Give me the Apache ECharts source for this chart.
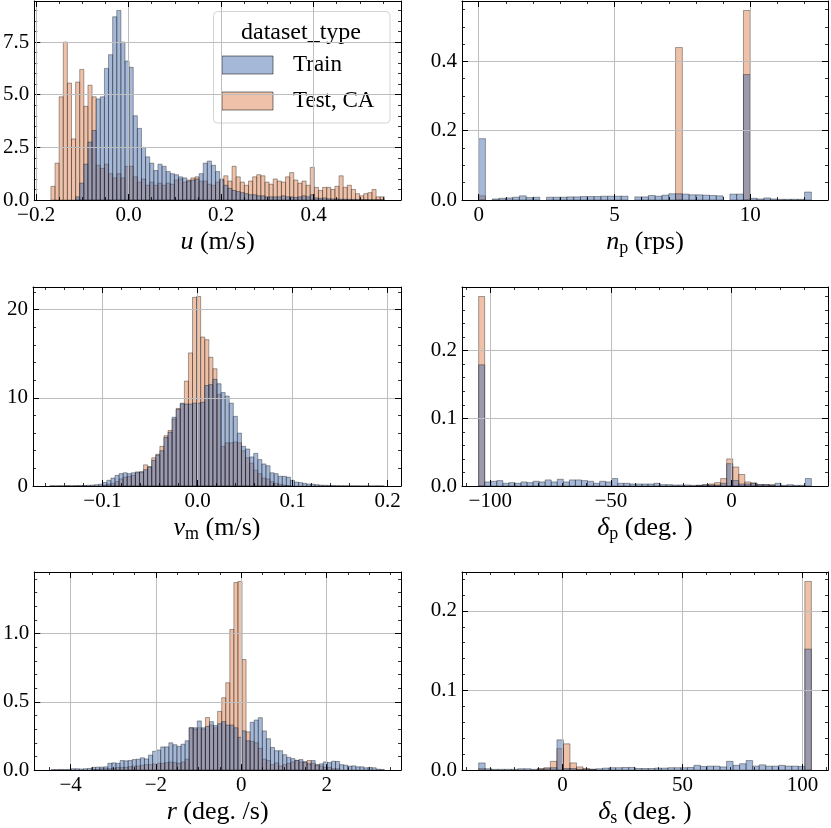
<!DOCTYPE html>
<html>
<head>
<meta charset="utf-8">
<title>dataset_type histograms</title>
<script src="https://cdn.jsdelivr.net/npm/echarts@6/dist/echarts.min.js"></script>
<style>
  html, body { margin: 0; padding: 0; background: #fff; }
  #chart { width: 831px; height: 828px; }
</style>
</head>
<body>
<div id="chart"></div>
<script>
// histogram bins: first edge, bin width, then density per bin
const uStart = -0.168
const uWidth = 0.0089
const uTrain = [0, 0, 0, 0, 0, 0, 0.15, 0.8, 1.7, 2.75,
  3.3, 4.8, 4.9, 6.25, 6.9, 8.7, 9.0, 7.5, 6.6, 6.3,
  4.0, 3.4, 2.5, 2.05, 1.75, 1.4, 1.7, 1.6, 1.35, 1.25,
  1.2, 1.1, 1.05, 0.9, 0.95, 1.0, 1.25, 1.75, 1.85, 1.65,
  1.35, 0.95, 0.7, 0.55, 0.45, 0.4, 0.35, 0.3, 0.25, 0.25,
  0.2, 0.2, 0.15, 0.15, 0.15, 0.15, 0.2, 0.15, 0.15, 0.12,
  0.15, 0.2, 0.15, 0.25, 0.1, 0.08, 0.1, 0.06, 0.05, 0.05,
  0.04, 0.04, 0.03, 0.03, 0.02, 0.02, 0.02, 0.01, 0.01, 0.01,
  0.01]
const uTest = [0.65, 1.75, 4.9, 7.5, 5.55, 2.9, 5.6, 6.2, 4.45, 5.45,
  4.9, 1.65, 1.5, 1.7, 1.25, 1.05, 1.25, 1.05, 1.6, 1.6,
  1.1, 0.85, 1.0, 0.7, 0.85, 0.7, 0.8, 0.7, 0.8, 0.75,
  0.95, 1.0, 0.85, 0.95, 1.05, 1.1, 0.9, 0.9, 0.75, 0.7,
  0.85, 1.0, 1.15, 0.9, 1.6, 1.1, 0.85, 0.7, 0.9, 1.1,
  1.2, 1.15, 0.85, 0.75, 1.0, 0.9, 0.85, 1.1, 1.3, 0.95,
  0.8, 0.9, 0.7, 1.55, 0.6, 0.45, 0.6, 0.6, 0.5, 0.65,
  1.15, 0.6, 0.7, 0.5, 0.3, 0.2, 0.3, 0.35, 0.5, 0.15,
  0.15]

const npStart = 0
const npWidth = 0.25
const npTrain = [0.177, 0, 0.003, 0.005, 0.006, 0.008, 0.012, 0.007, 0.008, 0,
  0.008, 0.008, 0.008, 0.009, 0.009, 0.01, 0.01, 0.01, 0.011, 0.011,
  0.011, 0.011, 0, 0.009, 0.009, 0.013, 0.011, 0.014, 0.018, 0.018,
  0.017, 0.015, 0.015, 0.014, 0.013, 0.012, 0, 0.017, 0.017, 0.362,
  0.005, 0.003, 0.006, 0.003, 0.002, 0.002, 0.002, 0.002, 0.023]
const npTest = [0.012, 0, 0, 0, 0, 0, 0, 0, 0, 0,
  0, 0, 0, 0, 0, 0, 0, 0, 0, 0,
  0, 0, 0, 0, 0, 0, 0, 0, 0, 0.44,
  0, 0, 0, 0, 0, 0, 0, 0, 0, 0.547,
  0, 0, 0, 0, 0, 0, 0, 0, 0]

const vmStart = -0.1554
const vmWidth = 0.00429
const vmTrain = [0.03, 0.02, 0.03, 0.02, 0.05, 0.03, 0.05, 0.06, 0.06, 0.08,
  0.1, 0.15, 0.2, 0.4, 0.65, 0.9, 1.2, 1.4, 1.5, 1.4,
  1.5, 1.6, 1.6, 1.85, 2.15, 2.9, 3.5, 4.0, 5.5, 6.1,
  7.8, 8.7, 9.4, 9.3, 9.3, 9.4, 9.4, 9.5, 11.4, 11.5,
  12.1, 11.6, 10.6, 10.2, 9.4, 7.9, 6.0, 4.5, 4.2, 3.3,
  3.7, 3.0, 2.5, 2.3, 1.5, 1.4, 1.1, 1.1, 1.0, 0.65,
  0.45, 0.38, 0.3, 0.22, 0.2, 0.15, 0.1, 0.08, 0.06, 0.05,
  0.04, 0.03, 0.03, 0.02, 0.02, 0.02, 0.01, 0.01, 0.01, 0.01,
  0.02, 0.01]
const vmTest = [0, 0, 0, 0, 0, 0, 0, 0, 0, 0,
  0, 0, 0, 0.1, 0.2, 0.3, 0.5, 0.8, 1.0, 1.1,
  1.2, 1.5, 1.6, 2.4, 2.2, 3.2, 3.6, 4.5, 5.7, 6.3,
  7.6, 8.8, 9.3, 11.9, 15.1, 21.4, 21.5, 16.9, 16.6, 14.6,
  13.3, 10.4, 4.5, 4.9, 4.9, 5.0, 4.9, 4.0, 3.2, 2.6,
  1.8, 1.4, 0.9, 0.8, 0.5, 0.3, 0.2, 0.1, 0.05, 0,
  0, 0, 0, 0, 0, 0, 0, 0, 0, 0,
  0, 0, 0, 0, 0, 0, 0, 0, 0, 0,
  0, 0]

const dpStart = -104.8
const dpWidth = 2.507
const dpTrain = [0.179, 0.006, 0.007, 0.008, 0.004, 0.005, 0.004, 0.006, 0.005, 0.007,
  0.006, 0.009, 0.006, 0.01, 0.006, 0.009, 0.009, 0.008, 0.007, 0.004,
  0.007, 0.006, 0.011, 0.004, 0.004, 0.003, 0.003, 0.003, 0.003, 0.004,
  0.002, 0.002, 0.0015, 0.0015, 0.0015, 0.001, 0.001, 0.0015, 0.0015, 0.0015,
  0.004, 0.033, 0.008, 0.003, 0.003, 0.004, 0.002, 0.002, 0.001, 0.004,
  0.001, 0.002, 0.001, 0.001, 0.011]
const dpTest = [0.28, 0, 0, 0, 0, 0, 0, 0, 0, 0,
  0, 0, 0, 0, 0, 0, 0, 0, 0, 0,
  0, 0, 0, 0, 0, 0, 0, 0, 0, 0,
  0, 0, 0, 0, 0, 0, 0.001, 0.002, 0.003, 0.005,
  0.011, 0.04, 0.028, 0.017, 0.006, 0.0045, 0.002, 0.002, 0.002, 0,
  0, 0, 0, 0, 0]

const rStart = -4.46
const rWidth = 0.09524
const rTrain = [0.004, 0.004, 0.005, 0.004, 0.005, 0.01, 0.01, 0.008, 0.01, 0.012,
  0.02, 0.022, 0.022, 0.024, 0.05, 0.053, 0.05, 0.07, 0.068, 0.07,
  0.077, 0.08, 0.09, 0.082, 0.11, 0.138, 0.147, 0.17, 0.17, 0.2,
  0.186, 0.174, 0.19, 0.215, 0.31, 0.31, 0.36, 0.31, 0.32, 0.355,
  0.326, 0.34, 0.355, 0.33, 0.33, 0.31, 0.24, 0.287, 0.215, 0.35,
  0.367, 0.384, 0.287, 0.23, 0.166, 0.142, 0.142, 0.113, 0.094, 0.084,
  0.072, 0.077, 0.06, 0.046, 0.07, 0.036, 0.046, 0.06, 0.055, 0.065,
  0.063, 0.04, 0.036, 0.029, 0.031, 0.024, 0.024, 0.017, 0.02, 0.017,
  0.007, 0.005]
const rTest = [0, 0, 0, 0, 0, 0, 0, 0, 0, 0,
  0.005, 0.005, 0.01, 0.01, 0.01, 0.015, 0.02, 0.02, 0.02, 0.025,
  0.03, 0.03, 0.035, 0.04, 0.04, 0.045, 0.05, 0.05, 0.055, 0.06,
  0.055, 0.05, 0.06, 0.08, 0.31, 0.3, 0.31, 0.3, 0.385, 0.33,
  0.31, 0.43, 0.53, 0.64, 1.03, 1.374, 1.382, 0.81, 0.28, 0.21,
  0.2, 0.16, 0.08, 0.07, 0.04, 0.053, 0.03, 0.04, 0.05, 0.06,
  0.07, 0.06, 0.06, 0.07, 0.05, 0.04, 0.03, 0.02, 0.02, 0.01,
  0.01, 0, 0, 0, 0, 0, 0, 0, 0, 0,
  0, 0]

const dsStart = -34.9
const dsWidth = 2.718
const dsTrain = [0.009, 0.0017, 0.001, 0.001, 0.001, 0.001, 0.0017, 0.0017, 0.001, 0.001,
  0.0017, 0.003, 0.038, 0.002, 0.002, 0.001, 0.001, 0.001, 0.0017, 0.0025,
  0.003, 0.003, 0.0033, 0.0033, 0.002, 0.002, 0.002, 0.0025, 0.0025, 0.003,
  0.003, 0.003, 0.0033, 0.006, 0.0046, 0.005, 0.005, 0.004, 0.011, 0.006,
  0.008, 0.012, 0.005, 0.0066, 0.005, 0.005, 0.006, 0.005, 0.005, 0.0046,
  0.152]
const dsTest = [0.002, 0, 0, 0, 0, 0, 0, 0, 0, 0.002,
  0.003, 0.011, 0.027, 0.033, 0.009, 0.004, 0.002, 0.001, 0, 0,
  0, 0, 0, 0, 0, 0, 0, 0, 0, 0,
  0, 0, 0, 0, 0, 0, 0, 0, 0, 0,
  0, 0, 0, 0, 0, 0, 0, 0, 0, 0,
  0.237]

const seriesNames = ['Train', 'Test, CA']

const FONT = 'Liberation Serif'
const TRAIN_FILL = 'rgba(76,114,176,0.5)'
const TEST_FILL = 'rgba(221,132,82,0.5)'
const EDGE = 'rgba(0,0,0,0.5)'

const panels = [
  { start: uStart, width: uWidth, train: uTrain, test: uTest, xStep: 0.2, xDiv: 4, xDec: 1, yStep: 2.5, yDiv: 5, yDec: 1, name: '{i|u} (m/s)' },
  { start: npStart, width: npWidth, train: npTrain, test: npTest, xStep: 5, xDiv: 5, xDec: 0, yStep: 0.2, yDiv: 4, yDec: 1, name: '{i|n}{s|p} (rps)' },
  { start: vmStart, width: vmWidth, train: vmTrain, test: vmTest, xStep: 0.1, xDiv: 5, xDec: 1, yStep: 10, yDiv: 5, yDec: 0, name: '{i|v}{s|m} (m/s)' },
  { start: dpStart, width: dpWidth, train: dpTrain, test: dpTest, xStep: 50, xDiv: 5, xDec: 0, yStep: 0.1, yDiv: 5, yDec: 1, name: '{i|δ}{s|p} (deg. )' },
  { start: rStart, width: rWidth, train: rTrain, test: rTest, xStep: 2, xDiv: 4, xDec: 0, yStep: 0.5, yDiv: 5, yDec: 1, name: '{i|r} (deg. /s)' },
  { start: dsStart, width: dsWidth, train: dsTrain, test: dsTest, xStep: 50, xDiv: 5, xDec: 0, yStep: 0.1, yDiv: 5, yDec: 1, name: '{i|δ}{s|s} (deg. )' }
]

// plot boxes [left, top, width, height]
const cells = [
  [33, 1, 368, 199], [462, 1, 366, 199],
  [33, 287, 368, 199], [462, 287, 366, 199],
  [33, 572, 368, 200], [462, 572, 366, 200]
]

function binned (start, width, heights) {
  return heights.map((h, i) => [start + i * width, start + (i + 1) * width, h])
}

// matplotlib style 5% margins around the bin edges
function xLimits (p) {
  const span = p.width * p.train.length
  return [p.start - 0.05 * span, p.start + 1.05 * span]
}

function tickFormatter (step, dec) {
  return function (v) {
    const r = v / step
    if (Math.abs(r - Math.round(r)) > 1e-6) return ''
    const val = Math.abs(v) < 1e-9 ? 0 : v
    return val.toFixed(dec).replace('-', '\u2212')
  }
}

function barRenderer (fill) {
  return function (params, api) {
    const h = api.value(2)
    if (!h) return null
    const a = api.coord([api.value(0), 0])
    const b = api.coord([api.value(1), h])
    return {
      type: 'rect',
      shape: { x: a[0], y: b[1], width: b[0] - a[0], height: a[1] - b[1] },
      style: { fill: fill, stroke: EDGE, lineWidth: 0.7 }
    }
  }
}

const spine = { show: true, onZero: false, lineStyle: { color: '#000', width: 1 } }
const majorTick = { show: true, inside: true, length: 6, lineStyle: { color: '#000', width: 1 } }
function minorTick (n) {
  return { show: true, splitNumber: n, length: 3, lineStyle: { color: '#000', width: 0.8 } }
}
const gridLine = { color: '#bdbdbd', width: 1 }
const labelFont = { fontFamily: FONT, fontSize: 21, color: '#000' }

const grids = []
const xAxes = []
const yAxes = []
const series = []

panels.forEach((p, k) => {
  const c = cells[k]
  grids.push({ left: c[0], top: c[1], width: c[2], height: c[3], show: false })
  const lim = xLimits(p)
  const yMax = 1.05 * Math.max(...p.train, ...p.test)
  const xBase = {
    type: 'value', gridIndex: k, min: lim[0], max: lim[1],
    minInterval: p.xStep, maxInterval: p.xStep, splitNumber: 4,
    axisLine: spine, axisTick: majorTick, minorTick: minorTick(p.xDiv)
  }
  const yBase = {
    type: 'value', gridIndex: k, min: 0, max: yMax, interval: p.yStep,
    axisLine: spine, axisTick: majorTick, minorTick: minorTick(p.yDiv)
  }
  xAxes.push(Object.assign({}, xBase, {
    position: 'bottom', z: 4,
    axisLabel: Object.assign({ margin: 5, formatter: tickFormatter(p.xStep, p.xDec) }, labelFont),
    splitLine: { show: true, showMinLine: false, showMaxLine: false, lineStyle: gridLine },
    name: p.name, nameLocation: 'middle', nameGap: k >= 4 ? 24 : 26,
    nameTextStyle: {
      fontFamily: FONT, fontSize: 26, color: '#000', lineHeight: 30,
      rich: {
        i: { fontFamily: FONT, fontSize: 26, fontStyle: 'italic', color: '#000', lineHeight: 30 },
        s: { fontFamily: FONT, fontSize: 18, color: '#000', lineHeight: 12, verticalAlign: 'bottom' }
      }
    }
  }))
  xAxes.push(Object.assign({}, xBase, {
    position: 'top', z: 5, axisLabel: { show: false }, splitLine: { show: false }
  }))
  yAxes.push(Object.assign({}, yBase, {
    position: 'left', z: 3,
    axisLabel: Object.assign({ margin: 5, formatter: tickFormatter(p.yStep, p.yDec) }, labelFont),
    splitLine: { show: true, showMaxLine: false, lineStyle: gridLine }
  }))
  yAxes.push(Object.assign({}, yBase, {
    position: 'right', z: 5, axisLabel: { show: false }, splitLine: { show: false }
  }))
  // Test layer first so Train sits on top, as seaborn layers hues
  series.push({
    name: seriesNames[1], type: 'custom', xAxisIndex: 2 * k, yAxisIndex: 2 * k,
    renderItem: barRenderer(TEST_FILL), data: binned(p.start, p.width, p.test),
    encode: { x: [0, 1], y: 2 }, z: 2, silent: true
  })
  series.push({
    name: seriesNames[0], type: 'custom', xAxisIndex: 2 * k, yAxisIndex: 2 * k,
    renderItem: barRenderer(TRAIN_FILL), data: binned(p.start, p.width, p.train),
    encode: { x: [0, 1], y: 2 }, z: 2, silent: true
  })
})

const legendBox = {
  type: 'group', z: 10,
  children: [
    { type: 'rect', shape: { x: 213.5, y: 11.5, width: 176.5, height: 111.5, r: 4 },
      style: { fill: 'rgba(255,255,255,0.8)', stroke: '#d4d4d4', lineWidth: 1 } },
    { type: 'text', style: { x: 301, y: 33, text: 'dataset_type', font: '24px "Liberation Serif"', fill: '#000', align: 'center', verticalAlign: 'middle' } },
    { type: 'rect', shape: { x: 222, y: 56, width: 51, height: 18 }, style: { fill: TRAIN_FILL, stroke: EDGE, lineWidth: 1 } },
    { type: 'text', style: { x: 293, y: 65, text: seriesNames[0], font: '23px "Liberation Serif"', fill: '#000', align: 'left', verticalAlign: 'middle' } },
    { type: 'rect', shape: { x: 222, y: 92, width: 51, height: 18 }, style: { fill: TEST_FILL, stroke: EDGE, lineWidth: 1 } },
    { type: 'text', style: { x: 293, y: 101, text: seriesNames[1], font: '23px "Liberation Serif"', fill: '#000', align: 'left', verticalAlign: 'middle' } }
  ]
}

const chart = echarts.init(document.getElementById('chart'))
chart.setOption({
  backgroundColor: '#fff',
  animation: false,
  grid: grids,
  xAxis: xAxes,
  yAxis: yAxes,
  series: series,
  graphic: [legendBox]
})
</script>
</body>
</html>
